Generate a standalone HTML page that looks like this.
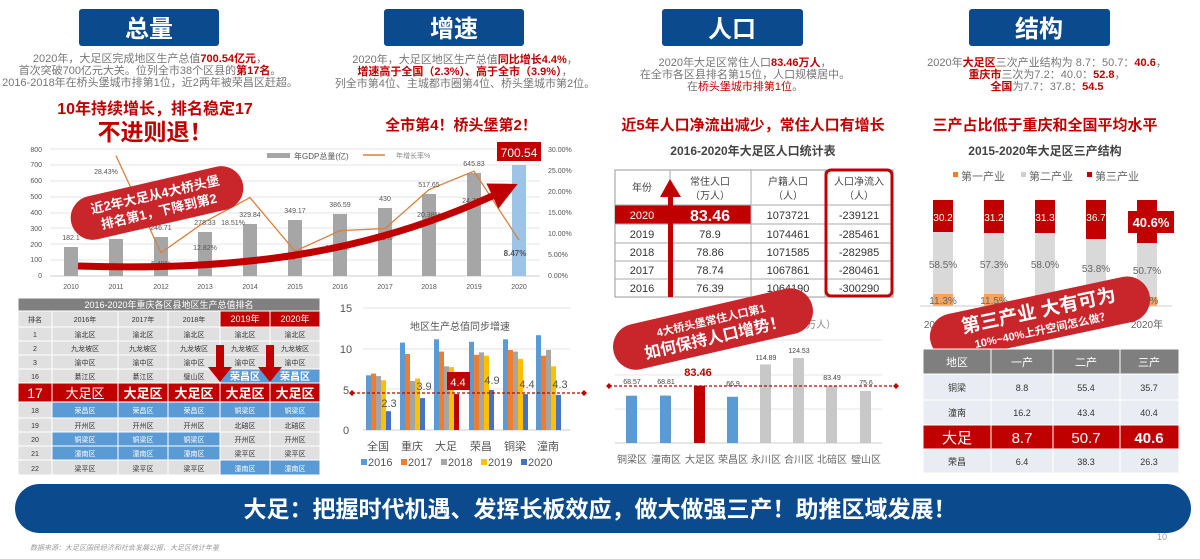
<!DOCTYPE html>
<html><head><meta charset="utf-8"><style>
html,body{margin:0;padding:0;background:#fff;}
svg{display:block;font-family:"Liberation Sans","Noto Sans CJK SC",sans-serif;}
</style></head><body>
<svg width="1200" height="559" viewBox="0 0 1200 559" xmlns="http://www.w3.org/2000/svg">
<defs>
<marker id="ah" viewBox="0 0 10 10" refX="5" refY="5" markerWidth="4" markerHeight="4" orient="auto"><path d="M0,0L10,5L0,10z" fill="#c00000"/></marker>
</defs>
<rect width="1200" height="559" fill="#fff"/>
<g font-weight="bold" fill="#fff" font-size="24" text-anchor="middle">
<rect x="79" y="9" width="140" height="37" rx="3" fill="#0b4a8d"/><text x="149" y="37">总量</text>
<rect x="384" y="9" width="140" height="37" rx="3" fill="#0b4a8d"/><text x="454" y="37">增速</text>
<rect x="662" y="9" width="141" height="37" rx="3" fill="#0b4a8d"/><text x="732" y="37">人口</text>
<rect x="969" y="9" width="141" height="37" rx="3" fill="#0b4a8d"/><text x="1039" y="37">结构</text>
</g>
<g font-size="11" fill="#777" text-anchor="middle">
<text x="150" y="62">2020年，大足区完成地区生产总值<tspan fill="#c00000" font-weight="bold">700.54亿元</tspan>，</text>
<text x="150" y="74">首次突破700亿元大关。位列全市38个区县的<tspan fill="#c00000" font-weight="bold">第17名</tspan>。</text>
<text x="150" y="86">2016-2018年在桥头堡城市排第1位，近2两年被荣昌区赶超。</text>
<text x="465" y="63">2020年，大足区地区生产总值<tspan fill="#c00000" font-weight="bold">同比增长4.4%</tspan>，</text>
<text x="465" y="75"><tspan fill="#c00000" font-weight="bold">增速高于全国（2.3%）、高于全市（3.9%）</tspan>，</text>
<text x="465" y="87">列全市第4位、主城都市圈第4位、桥头堡城市第2位。</text>
<text x="745" y="66">2020年大足区常住人口<tspan fill="#c00000" font-weight="bold">83.46万人</tspan>，</text>
<text x="745" y="78">在全市各区县排名第15位，人口规模居中。</text>
<text x="745" y="90">在<tspan fill="#c00000">桥头堡城市排第1位</tspan>。</text>
<text x="1047" y="66">2020年<tspan fill="#c00000" font-weight="bold">大足区</tspan>三次产业结构为 8.7：50.7：<tspan fill="#c00000" font-weight="bold">40.6</tspan>，</text>
<text x="1047" y="78"><tspan fill="#c00000" font-weight="bold">重庆市</tspan>三次为7.2：40.0：<tspan fill="#c00000" font-weight="bold">52.8</tspan>，</text>
<text x="1047" y="90"><tspan fill="#c00000" font-weight="bold">全国</tspan>为7.7：37.8：<tspan fill="#c00000" font-weight="bold">54.5</tspan></text>
</g>
<g fill="#c00000" font-weight="bold" text-anchor="middle">
<text x="155" y="114" font-size="16">10年持续增长，排名稳定17</text>
<text x="155" y="140" font-size="23">不进则退！</text>
<text x="461" y="130" font-size="15">全市第4！桥头堡第2！</text>
<text x="753" y="130" font-size="15">近5年人口净流出减少，常住人口有增长</text>
<text x="1045" y="130" font-size="15">三产占比低于重庆和全国平均水平</text>
</g>
<g fill="#444" font-weight="bold" text-anchor="middle" font-size="12">
<text x="753" y="155">2016-2020年大足区人口统计表</text>
<text x="1045" y="155">2015-2020年大足区三产结构</text>
</g>

<!-- GDP chart -->
<g stroke="#e6e6e6" stroke-width="1">
<line x1="50" y1="149" x2="540" y2="149"/><line x1="50" y1="165" x2="540" y2="165"/><line x1="50" y1="181" x2="540" y2="181"/><line x1="50" y1="197" x2="540" y2="197"/><line x1="50" y1="213" x2="540" y2="213"/><line x1="50" y1="228" x2="540" y2="228"/><line x1="50" y1="244" x2="540" y2="244"/><line x1="50" y1="260" x2="540" y2="260"/><line x1="50" y1="276" x2="540" y2="276" stroke="#ccc"/>
</g>
<g font-size="7" fill="#555" text-anchor="end">
<text x="42" y="152">800</text><text x="42" y="167">700</text><text x="42" y="183">600</text><text x="42" y="199">500</text><text x="42" y="215">400</text><text x="42" y="231">300</text><text x="42" y="247">200</text><text x="42" y="262">100</text><text x="42" y="278">0</text>
</g>
<g font-size="7" fill="#555">
<text x="548" y="152">30.00%</text><text x="548" y="173">25.00%</text><text x="548" y="194">20.00%</text><text x="548" y="215">15.00%</text><text x="548" y="236">10.00%</text><text x="548" y="257">5.00%</text><text x="548" y="278">0.00%</text>
</g>
<g fill="#a6a6a6">
<rect x="64" y="247" width="14" height="29"/><rect x="109" y="239" width="14" height="37"/><rect x="154" y="237" width="14" height="39"/><rect x="198" y="232" width="14" height="44"/><rect x="243" y="224" width="14" height="52"/><rect x="288" y="220" width="14" height="56"/><rect x="333" y="214" width="14" height="62"/><rect x="378" y="208" width="14" height="68"/><rect x="422" y="194" width="14" height="82"/><rect x="467" y="173" width="14" height="103"/>
</g>
<rect x="512" y="165" width="14" height="111" fill="#9dc3e6"/>
<polyline points="116,155.6 161,252.8 205,221.7 250,197.6 295,251.2 340,230.6 385,228.6 429,189.7 474,171.2 519,240.1" fill="none" stroke="#d9803e" stroke-width="1.3"/>
<g font-size="7" fill="#555" text-anchor="middle">
<text x="71" y="240">182.1</text><text x="116" y="232">233.87</text><text x="161" y="230">246.71</text><text x="205" y="225">278.33</text><text x="250" y="217">329.84</text><text x="295" y="213">349.17</text><text x="340" y="207">386.59</text><text x="385" y="201">430</text><text x="429" y="187">517.65</text><text x="474" y="166">645.83</text>
<text x="106" y="174">28.43%</text><text x="161" y="266">5.49%</text><text x="205" y="250">12.82%</text><text x="233" y="225">18.51%</text><text x="285" y="260">5.86%</text><text x="337" y="250">10.72%</text><text x="383" y="240">11.2%</text><text x="429" y="217">20.38%</text><text x="474" y="203">24.76%</text><text x="515" y="256" font-weight="bold" font-size="8">8.47%</text>
<text x="71" y="289">2010</text><text x="116" y="289">2011</text><text x="161" y="289">2012</text><text x="205" y="289">2013</text><text x="250" y="289">2014</text><text x="295" y="289">2015</text><text x="340" y="289">2016</text><text x="385" y="289">2017</text><text x="429" y="289">2018</text><text x="474" y="289">2019</text><text x="519" y="289">2020</text>
</g>
<rect x="267" y="153" width="23" height="5" fill="#a6a6a6"/>
<text x="294" y="159" font-size="8" fill="#555">年GDP总量(亿)</text>
<line x1="363" y1="155" x2="385" y2="155" stroke="#d9803e" stroke-width="1.5"/>
<text x="396" y="158" font-size="7" fill="#888">年增长率%</text>
<rect x="497" y="142" width="44" height="19" fill="#c00000"/>
<text x="519" y="157" font-size="12" fill="#fff" text-anchor="middle">700.54</text>
<path d="M78,266 C250,272 380,250 505,190" fill="none" stroke="#c00000" stroke-width="7" marker-end="url(#ah)"/>
<g transform="translate(157,203) rotate(-13)">
<rect x="-88" y="-22" width="176" height="44" rx="22" fill="#c8262b"/>
<text x="0" y="-4" font-size="13" font-weight="bold" fill="#fff" text-anchor="middle">近2年大足从4大桥头堡</text>
<text x="0" y="13" font-size="13" font-weight="bold" fill="#fff" text-anchor="middle">排名第1，下降到第2</text>
</g>

<!-- ranking table -->
<g font-size="7" text-anchor="middle" stroke="#fff" stroke-width="1">
<rect x="18" y="298" width="302" height="13" fill="#808080"/>
<!-- header -->
<rect x="18" y="311" width="34" height="16" fill="#e0e0e0"/><rect x="52" y="311" width="66" height="16" fill="#e0e0e0"/><rect x="118" y="311" width="50" height="16" fill="#e0e0e0"/><rect x="168" y="311" width="52" height="16" fill="#e0e0e0"/><rect x="220" y="311" width="50" height="16" fill="#c00000"/><rect x="270" y="311" width="50" height="16" fill="#c00000"/>
<!-- rows 1,2,3 -->
<rect x="18" y="327" width="302" height="14" fill="#e0e0e0"/><rect x="18" y="341" width="302" height="14" fill="#e0e0e0"/><rect x="18" y="355" width="302" height="14" fill="#e0e0e0"/>
<!-- 16 -->
<rect x="18" y="369" width="202" height="14" fill="#e0e0e0"/><rect x="220" y="369" width="50" height="14" fill="#5b9bd5"/><rect x="270" y="369" width="50" height="14" fill="#5b9bd5"/>
<!-- 17 -->
<rect x="18" y="383" width="302" height="19" fill="#c00000"/>
<!-- 18 -->
<rect x="18" y="402" width="34" height="16" fill="#e0e0e0"/><rect x="52" y="402" width="268" height="16" fill="#5b9bd5"/>
<!-- 19 -->
<rect x="18" y="418" width="302" height="14" fill="#e0e0e0"/>
<!-- 20 -->
<rect x="18" y="432" width="34" height="14" fill="#e0e0e0"/><rect x="52" y="432" width="168" height="14" fill="#5b9bd5"/><rect x="220" y="432" width="100" height="14" fill="#e0e0e0"/>
<!-- 21 -->
<rect x="18" y="446" width="34" height="14" fill="#e0e0e0"/><rect x="52" y="446" width="168" height="14" fill="#5b9bd5"/><rect x="220" y="446" width="100" height="14" fill="#e0e0e0"/>
<!-- 22 -->
<rect x="18" y="460" width="202" height="15" fill="#e0e0e0"/><rect x="220" y="460" width="100" height="15" fill="#5b9bd5"/>
<g stroke="#fff"><line x1="52" y1="327" x2="52" y2="475"/><line x1="118" y1="327" x2="118" y2="475"/><line x1="168" y1="327" x2="168" y2="475"/><line x1="220" y1="327" x2="220" y2="475"/><line x1="270" y1="327" x2="270" y2="475"/></g>
</g>
<g font-size="7" text-anchor="middle">
<text x="169" y="308" fill="#fff" font-size="9">2016-2020年重庆各区县地区生产总值排名</text>
<g fill="#333">
<text x="35" y="322">排名</text><text x="85" y="322">2016年</text><text x="143" y="322">2017年</text><text x="194" y="322">2018年</text>
<text x="35" y="337">1</text><text x="85" y="337">渝北区</text><text x="143" y="337">渝北区</text><text x="194" y="337">渝北区</text><text x="245" y="337">渝北区</text><text x="295" y="337">渝北区</text>
<text x="35" y="351">2</text><text x="85" y="351">九龙坡区</text><text x="143" y="351">九龙坡区</text><text x="194" y="351">九龙坡区</text><text x="245" y="351">九龙坡区</text><text x="295" y="351">九龙坡区</text>
<text x="35" y="365">3</text><text x="85" y="365">渝中区</text><text x="143" y="365">渝中区</text><text x="194" y="365">渝中区</text><text x="245" y="365">渝中区</text><text x="295" y="365">渝中区</text>
<text x="35" y="379">16</text><text x="85" y="379">綦江区</text><text x="143" y="379">綦江区</text><text x="194" y="379">璧山区</text>
<text x="35" y="413">18</text>
<text x="35" y="428">19</text><text x="85" y="428">开州区</text><text x="143" y="428">开州区</text><text x="194" y="428">开州区</text><text x="245" y="428">北碚区</text><text x="295" y="428">北碚区</text>
<text x="35" y="442">20</text><text x="245" y="442">开州区</text><text x="295" y="442">开州区</text>
<text x="35" y="456">21</text><text x="245" y="456">梁平区</text><text x="295" y="456">梁平区</text>
<text x="35" y="471">22</text><text x="85" y="471">梁平区</text><text x="143" y="471">梁平区</text><text x="194" y="471">梁平区</text>
</g>
<g fill="#fff">
<text x="245" y="322" font-size="9">2019年</text><text x="295" y="322" font-size="9">2020年</text>
<text x="245" y="380" font-size="10" font-weight="bold">荣昌区</text><text x="295" y="380" font-size="10" font-weight="bold">荣昌区</text>
<text x="35" y="398" font-size="14">17</text>
<text x="85" y="398" font-size="13">大足区</text><text x="143" y="398" font-size="13" font-weight="bold">大足区</text><text x="194" y="398" font-size="13" font-weight="bold">大足区</text><text x="245" y="398" font-size="13" font-weight="bold">大足区</text><text x="295" y="398" font-size="13" font-weight="bold">大足区</text>
<text x="85" y="413">荣昌区</text><text x="143" y="413">荣昌区</text><text x="194" y="413">荣昌区</text><text x="245" y="413">铜梁区</text><text x="295" y="413">铜梁区</text>
<text x="85" y="442">铜梁区</text><text x="143" y="442">铜梁区</text><text x="194" y="442">铜梁区</text>
<text x="85" y="456">潼南区</text><text x="143" y="456">潼南区</text><text x="194" y="456">潼南区</text>
<text x="245" y="471">潼南区</text><text x="295" y="471">潼南区</text>
</g>
</g>
<g fill="#c00000">
<rect x="216" y="345" width="8" height="24"/><path d="M208,367 L232,367 L220,382z"/>
<rect x="266" y="345" width="8" height="24"/><path d="M258,367 L282,367 L270,382z"/>
</g>

<!-- growth chart -->
<g stroke="#e3e3e3"><line x1="363" y1="308" x2="570" y2="308"/><line x1="363" y1="349" x2="570" y2="349"/><line x1="363" y1="389" x2="570" y2="389"/><line x1="363" y1="430" x2="570" y2="430" stroke="#ccc"/></g>
<g font-size="11" fill="#555" text-anchor="middle"><text x="346" y="312">15</text><text x="346" y="353">10</text><text x="346" y="394">5</text><text x="346" y="434">0</text></g>
<text x="460" y="330" font-size="10" fill="#555" text-anchor="middle">地区生产总值同步增速</text>
<g>
<g fill="#5b9bd5"><rect x="366" y="375.3" width="5" height="54.7"/><rect x="400" y="342.6" width="5" height="87.4"/><rect x="434" y="339.3" width="5" height="90.7"/><rect x="469" y="341.8" width="5" height="88.2"/><rect x="503" y="339.3" width="5" height="90.7"/><rect x="536" y="335.2" width="5" height="94.8"/></g>
<g fill="#ed7d31"><rect x="371" y="373.6" width="5" height="56.4"/><rect x="405" y="354" width="5" height="76"/><rect x="439" y="351.6" width="5" height="78.4"/><rect x="474" y="354.8" width="5" height="75.2"/><rect x="508" y="350" width="5" height="80"/><rect x="541" y="355.7" width="5" height="74.3"/></g>
<g fill="#a5a5a5"><rect x="376" y="376.1" width="5" height="53.9"/><rect x="410" y="381" width="5" height="49"/><rect x="444" y="366.3" width="5" height="63.7"/><rect x="479" y="352.4" width="5" height="77.6"/><rect x="513" y="351.6" width="5" height="78.4"/><rect x="546" y="350" width="5" height="80"/></g>
<g fill="#ffc000"><rect x="381" y="380.2" width="5" height="49.8"/><rect x="415" y="378.5" width="5" height="51.5"/><rect x="449" y="367.1" width="5" height="62.9"/><rect x="484" y="355.7" width="5" height="74.3"/><rect x="518" y="358.9" width="5" height="71.1"/><rect x="551" y="366.3" width="5" height="63.7"/></g>
<g fill="#4472c4"><rect x="386" y="411.2" width="5" height="18.8"/><rect x="420" y="398.1" width="5" height="31.9"/><rect x="454" y="394.1" width="5" height="35.9" fill="#c00000"/><rect x="489" y="390" width="5" height="40"/><rect x="523" y="394.1" width="5" height="35.9"/><rect x="556" y="394.9" width="5" height="35.1"/></g>
</g>
<line x1="352" y1="393" x2="584" y2="393" stroke="#c00000" stroke-width="1.2" stroke-dasharray="3,2"/>
<path d="M349,393l3,-3l3,3l-3,3z M581,393l3,-3l3,3l-3,3z" fill="#c00000"/>
<rect x="447" y="372" width="23" height="18" fill="#c00000"/>
<g font-size="11" fill="#555" text-anchor="middle">
<text x="389" y="407">2.3</text><text x="424" y="390">3.9</text><text x="458" y="386" fill="#fff">4.4</text><text x="492" y="384">4.9</text><text x="527" y="388">4.4</text><text x="560" y="388">4.3</text>
<text x="378" y="450">全国</text><text x="412" y="450">重庆</text><text x="446" y="450">大足</text><text x="481" y="450">荣昌</text><text x="515" y="450">铜梁</text><text x="548" y="450">潼南</text>
</g>
<g font-size="11" fill="#555">
<rect x="361" y="459" width="6" height="6" fill="#5b9bd5"/><text x="368" y="466">2016</text>
<rect x="401" y="459" width="6" height="6" fill="#ed7d31"/><text x="408" y="466">2017</text>
<rect x="441" y="459" width="6" height="6" fill="#a5a5a5"/><text x="448" y="466">2018</text>
<rect x="481" y="459" width="6" height="6" fill="#ffc000"/><text x="488" y="466">2019</text>
<rect x="521" y="459" width="6" height="6" fill="#4472c4"/><text x="528" y="466">2020</text>
</g>

<!-- population table -->
<g font-size="11" text-anchor="middle">
<rect x="615" y="170" width="278" height="127" fill="#fff" stroke="#999"/>
<rect x="615" y="205" width="136" height="19" fill="#c00000"/>
<g stroke="#aaa"><line x1="615" y1="205" x2="893" y2="205"/><line x1="615" y1="224" x2="893" y2="224"/><line x1="615" y1="243" x2="893" y2="243"/><line x1="615" y1="261" x2="893" y2="261"/><line x1="615" y1="279" x2="893" y2="279"/><line x1="670" y1="170" x2="670" y2="297"/><line x1="751" y1="170" x2="751" y2="297"/><line x1="825" y1="170" x2="825" y2="297"/></g>
<rect x="826" y="170" width="66" height="126" rx="5" fill="none" stroke="#c00000" stroke-width="3"/>
<g fill="#444" font-size="10"><text x="642" y="191">年份</text><text x="710" y="185">常住人口</text><text x="710" y="199">（万人）</text><text x="788" y="185">户籍人口</text><text x="788" y="199">（人）</text><text x="859" y="185">人口净流入</text><text x="859" y="199">（人）</text></g>
<text x="642" y="219" fill="#fff">2020</text><text x="710" y="221" fill="#fff" font-size="16" font-weight="bold">83.46</text>
<g fill="#333"><text x="788" y="219">1073721</text><text x="859" y="219">-239121</text>
<text x="642" y="238">2019</text><text x="710" y="238">78.9</text><text x="788" y="238">1074461</text><text x="859" y="238">-285461</text>
<text x="642" y="256">2018</text><text x="710" y="256">78.86</text><text x="788" y="256">1071585</text><text x="859" y="256">-282985</text>
<text x="642" y="274">2017</text><text x="710" y="274">78.74</text><text x="788" y="274">1067861</text><text x="859" y="274">-280461</text>
<text x="642" y="292">2016</text><text x="710" y="292">76.39</text><text x="788" y="292">1064190</text><text x="859" y="292">-300290</text></g>
</g>
<rect x="668" y="195" width="5" height="102" fill="#c00000"/><path d="M660,197 L681,197 L670,179z" fill="#c00000"/>

<!-- pop bar chart -->
<g stroke="#e6e6e6"><line x1="615" y1="340" x2="882" y2="340"/><line x1="615" y1="375" x2="882" y2="375"/><line x1="615" y1="409" x2="882" y2="409"/><line x1="615" y1="443" x2="882" y2="443" stroke="#ccc"/></g>
<text x="780" y="328" font-size="10" fill="#888" text-anchor="middle">2020年常住人口（万人）</text>
<g fill="#5b9bd5"><rect x="626" y="395.7" width="11" height="47.3"/><rect x="660" y="395.6" width="11" height="47.4"/><rect x="727" y="396.8" width="11" height="46.2"/></g>
<rect x="694" y="385.7" width="11" height="57.3" fill="#c00000"/>
<g fill="#c8c8c8"><rect x="760" y="364.4" width="11" height="78.6"/><rect x="793" y="358" width="11" height="85"/><rect x="826" y="385.6" width="11" height="57.4"/><rect x="860" y="391" width="11" height="52"/></g>
<line x1="609" y1="386" x2="896" y2="386" stroke="#c00000" stroke-width="1.2" stroke-dasharray="3,2"/>
<path d="M606,386l3,-3l3,3l-3,3z M893,386l3,-3l3,3l-3,3z" fill="#c00000"/>
<g font-size="7" fill="#444" text-anchor="middle"><text x="632" y="384">68.57</text><text x="666" y="384">68.81</text><text x="733" y="386">66.9</text><text x="766" y="360">114.89</text><text x="799" y="353">124.53</text><text x="832" y="380">83.49</text><text x="866" y="385">75.6</text></g>
<text x="698" y="376" font-size="11" font-weight="bold" fill="#c00000" text-anchor="middle">83.46</text>
<g font-size="10" fill="#666" text-anchor="middle"><text x="632" y="463">铜梁区</text><text x="666" y="463">潼南区</text><text x="700" y="463">大足区</text><text x="733" y="463">荣昌区</text><text x="766" y="463">永川区</text><text x="799" y="463">合川区</text><text x="832" y="463">北碚区</text><text x="866" y="463">璧山区</text></g>
<g transform="translate(713,329) rotate(-13)">
<rect x="-102" y="-23" width="204" height="46" rx="23" fill="#c8262b"/>
<text x="0" y="-5" font-size="11" font-weight="bold" fill="#fff" text-anchor="middle">4大桥头堡常住人口第1</text>
<text x="0" y="14" font-size="16" font-weight="bold" fill="#fff" text-anchor="middle">如何保持人口增势！</text>
</g>

<!-- industry chart -->
<g font-size="11" fill="#666">
<rect x="953" y="172" width="5" height="5" fill="#ed7d31"/><text x="961" y="180">第一产业</text>
<rect x="1021" y="172" width="5" height="5" fill="#d0d0d0"/><text x="1029" y="180">第二产业</text>
<rect x="1087" y="172" width="5" height="5" fill="#c00000"/><text x="1095" y="180">第三产业</text>
</g>
<g>
<rect x="933" y="200" width="20" height="32" fill="#c00000"/><rect x="933" y="232" width="20" height="62" fill="#d9d9d9"/><rect x="933" y="294" width="20" height="12" fill="#f4a460"/>
<rect x="984" y="200" width="20" height="33" fill="#c00000"/><rect x="984" y="233" width="20" height="61" fill="#d9d9d9"/><rect x="984" y="294" width="20" height="12" fill="#f4a460"/>
<rect x="1035" y="200" width="20" height="33" fill="#c00000"/><rect x="1035" y="233" width="20" height="62" fill="#d9d9d9"/><rect x="1035" y="295" width="20" height="11" fill="#f4a460"/>
<rect x="1086" y="200" width="20" height="39" fill="#c00000"/><rect x="1086" y="239" width="20" height="57" fill="#d9d9d9"/><rect x="1086" y="296" width="20" height="10" fill="#f4a460"/>
<rect x="1137" y="200" width="20" height="43" fill="#c00000"/><rect x="1137" y="243" width="20" height="54" fill="#d9d9d9"/><rect x="1137" y="297" width="20" height="9" fill="#f4a460"/>
<rect x="1128" y="211" width="46" height="22" fill="#c00000"/>
</g>
<g font-size="10" text-anchor="middle" fill="#fff"><text x="943" y="221">30.2</text><text x="994" y="221">31.2</text><text x="1045" y="221">31.3</text><text x="1096" y="221">36.7</text></g>
<text x="1151" y="227" font-size="13" font-weight="bold" fill="#fff" text-anchor="middle">40.6%</text>
<g font-size="10" text-anchor="middle" fill="#666"><text x="943" y="268">58.5%</text><text x="994" y="268">57.3%</text><text x="1045" y="268">58.0%</text><text x="1096" y="272">53.8%</text><text x="1147" y="274">50.7%</text>
<text x="943" y="304">11.3%</text><text x="994" y="304">11.5%</text><text x="1147" y="304">8.7%</text>
<text x="940" y="328">2015年</text><text x="1147" y="328">2020年</text></g>
<line x1="920" y1="306" x2="1172" y2="306" stroke="#ccc"/>
<g transform="translate(1040,318) rotate(-12)">
<rect x="-112" y="-23" width="224" height="46" rx="23" fill="#c8262b"/>
<text x="0" y="-1" font-size="19" font-weight="bold" fill="#fff" text-anchor="middle">第三产业 大有可为</text>
<text x="0" y="16" font-size="11" font-weight="bold" fill="#fff" text-anchor="middle">10%~40%上升空间怎么做？</text>
</g>

<!-- structure table -->
<g text-anchor="middle">
<g fill="#7f7f7f" stroke="#fff"><rect x="923" y="349" width="68" height="25"/><rect x="991" y="349" width="62" height="25"/><rect x="1053" y="349" width="67" height="25"/><rect x="1120" y="349" width="59" height="25"/></g>
<g fill="#e9ecf2" stroke="#fff"><rect x="923" y="374" width="68" height="26"/><rect x="991" y="374" width="62" height="26"/><rect x="1053" y="374" width="67" height="26"/><rect x="1120" y="374" width="59" height="26"/>
<rect x="923" y="400" width="68" height="25"/><rect x="991" y="400" width="62" height="25"/><rect x="1053" y="400" width="67" height="25"/><rect x="1120" y="400" width="59" height="25"/>
<rect x="923" y="449" width="68" height="24"/><rect x="991" y="449" width="62" height="24"/><rect x="1053" y="449" width="67" height="24"/><rect x="1120" y="449" width="59" height="24"/></g>
<g fill="#c00000" stroke="#fff"><rect x="923" y="425" width="68" height="24"/><rect x="991" y="425" width="62" height="24"/><rect x="1053" y="425" width="67" height="24"/><rect x="1120" y="425" width="59" height="24"/></g>
<g font-size="11" fill="#fff"><text x="957" y="366">地区</text><text x="1022" y="366">一产</text><text x="1086" y="366">二产</text><text x="1149" y="366">三产</text></g>
<g font-size="9" fill="#333"><text x="957" y="391">铜梁</text><text x="1022" y="391">8.8</text><text x="1086" y="391">55.4</text><text x="1149" y="391">35.7</text>
<text x="957" y="416">潼南</text><text x="1022" y="416">16.2</text><text x="1086" y="416">43.4</text><text x="1149" y="416">40.4</text>
<text x="957" y="465">荣昌</text><text x="1022" y="465">6.4</text><text x="1086" y="465">38.3</text><text x="1149" y="465">26.3</text></g>
<g font-size="15" fill="#fff"><text x="957" y="443">大足</text><text x="1022" y="443">8.7</text><text x="1086" y="443">50.7</text><text x="1149" y="443" font-weight="bold">40.6</text></g>
</g>

<!-- bottom banner -->
<rect x="15" y="484" width="1176" height="49" rx="24.5" fill="#0b4a8d"/>
<text x="600" y="517" font-size="23" font-weight="bold" fill="#fff" text-anchor="middle">大足：把握时代机遇、发挥长板效应，做大做强三产！助推区域发展！</text>
<text x="1162" y="540" font-size="9" fill="#999" text-anchor="middle">10</text>
<text x="30" y="550" font-size="7" font-style="italic" fill="#999">数据来源：大足区国民经济和社会发展公报、大足区统计年鉴</text>
</svg>
</body></html>
